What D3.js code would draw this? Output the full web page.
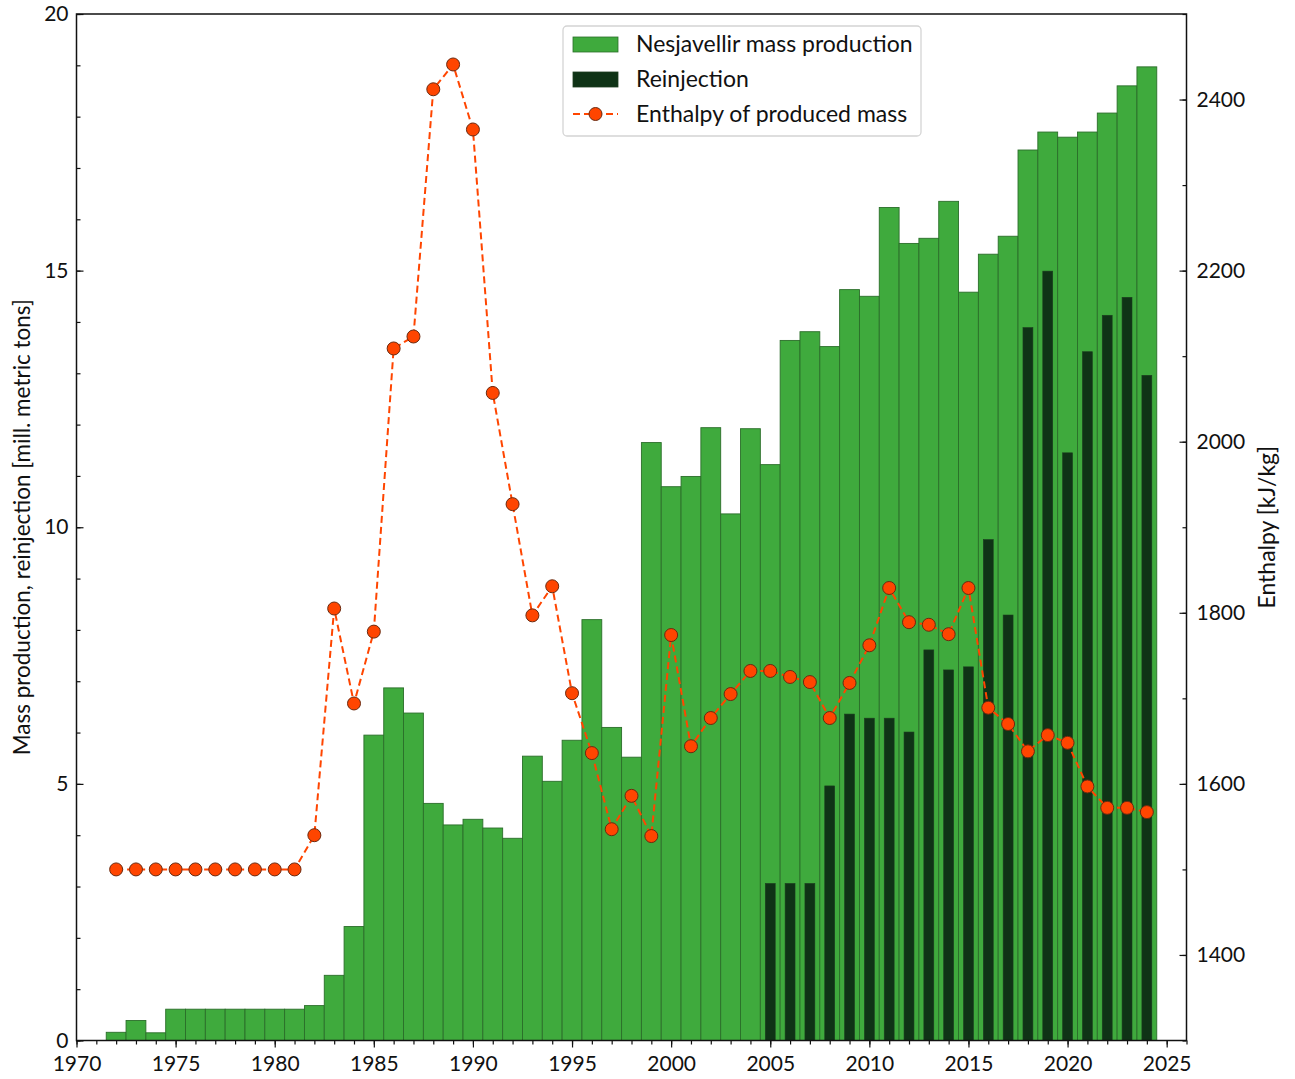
<html>
<head>
  <meta charset="utf-8" />
  <script src="https://d3js.org/d3.v7.min.js"></script>
  <style>
    body { margin: 0; background: #fff; }
    text { font-family: Lato, "DejaVu Sans", sans-serif; fill: #111; }
  </style>
</head>
<body>
  <div id="chart"></div>
  <script>
    // ---- data ----
    var years = d3.range(1972, 2025);
    var production = [
      0.16, 0.39, 0.15, 0.61, 0.61, 0.61, 0.61, 0.61, 0.61, 0.61,
      0.68, 1.27, 2.22, 5.95, 6.87, 6.38, 4.62, 4.2, 4.31, 4.14,
      3.94, 5.54, 5.05, 5.85, 8.2, 6.1, 5.52, 11.65, 10.79, 10.99,
      11.94, 10.26, 11.92, 11.22, 13.64, 13.81, 13.52, 14.63, 14.5, 16.23,
      15.53, 15.63, 16.35, 14.58, 15.32, 15.67, 17.35, 17.7, 17.6, 17.7,
      18.07, 18.6, 18.97
    ];
    var reinjYears = d3.range(2005, 2025);
    var reinjection = [
      3.06, 3.06, 3.06, 4.96, 6.36, 6.28, 6.28, 6.01, 7.61, 7.22,
      7.28, 9.76, 8.29, 13.89, 14.99, 11.45, 13.42, 14.13, 14.48, 12.96
    ];
    var enthalpy = [
      1500, 1500, 1500, 1500, 1500, 1500, 1500, 1500, 1500, 1500,
      1540, 1805, 1694, 1778, 2109, 2123, 2412, 2441, 2365, 2057,
      1927, 1797, 1831, 1706, 1636, 1547, 1586, 1539, 1774, 1644,
      1677, 1705, 1732, 1732, 1725, 1719, 1677, 1718, 1762, 1829,
      1789, 1786, 1775, 1829, 1689, 1670, 1638, 1657, 1648, 1597,
      1572, 1572, 1567
    ];
    var legendLabels = ["Nesjavellir mass production", "Reinjection", "Enthalpy of produced mass"];

    var green = "#3faa3d", greenEdge = "#2b6e2a", dark = "#0f3316", orange = "#ff4500";

    var W = 1295, H = 1079;
    var pLeft = 76.5, pRight = 1186.5, pTop = 14, pBottom = 1040.5;

    var svg = d3.select("#chart").append("svg")
      .attr("width", W).attr("height", H);

    var x = d3.scaleLinear().domain([1970, 2026]).range([pLeft, pRight]);
    var yL = d3.scaleLinear().domain([0, 20]).range([pBottom, pTop]);
    var yR = d3.scaleLinear().domain([1300, 2500]).range([pBottom, pTop]);

    // production bars (width 1 year)
    svg.append("g").selectAll("rect")
      .data(years.map((d, i) => ({ yr: d, v: production[i] })))
      .join("rect")
      .attr("x", d => x(d.yr - 0.5))
      .attr("width", d => x(d.yr + 0.5) - x(d.yr - 0.5))
      .attr("y", d => yL(d.v))
      .attr("height", d => yL(0) - yL(d.v))
      .attr("fill", green)
      .attr("stroke", greenEdge)
      .attr("stroke-width", 0.9);

    // reinjection bars (width 0.5 year)
    svg.append("g").selectAll("rect")
      .data(reinjYears.map((d, i) => ({ yr: d, v: reinjection[i] })))
      .join("rect")
      .attr("x", d => x(d.yr - 0.25))
      .attr("width", d => x(d.yr + 0.25) - x(d.yr - 0.25))
      .attr("y", d => yL(d.v))
      .attr("height", d => yL(0) - yL(d.v))
      .attr("fill", dark)
      .attr("stroke", "#1c3d1f")
      .attr("stroke-width", 0.6);

    // enthalpy line
    var pts = years.map((d, i) => ({ yr: d, v: enthalpy[i] }));
    svg.append("path")
      .datum(pts)
      .attr("fill", "none")
      .attr("stroke", orange)
      .attr("stroke-width", 2)
      .attr("stroke-dasharray", "7,4")
      .attr("d", d3.line().x(d => x(d.yr)).y(d => yR(d.v)));

    svg.append("g").selectAll("circle")
      .data(pts)
      .join("circle")
      .attr("cx", d => x(d.yr))
      .attr("cy", d => yR(d.v))
      .attr("r", 6.5)
      .attr("fill", orange)
      .attr("stroke", "#6a2a10")
      .attr("stroke-width", 1);

    // axes
    function style(g) {
      g.select(".domain").remove();
      g.selectAll("line").attr("stroke", "#111").attr("stroke-width", 1.2);
      g.selectAll("text").style("font-size", "21px").attr("fill", "#111");
    }

    // bottom
    svg.append("g").attr("transform", "translate(0," + pBottom + ")")
      .call(d3.axisBottom(x).tickValues(d3.range(1970, 2027)).tickSize(4).tickFormat(""))
      .call(style);
    svg.append("g").attr("transform", "translate(0," + pBottom + ")")
      .call(d3.axisBottom(x).tickValues(d3.range(1970, 2026, 5)).tickSize(7).tickPadding(9).tickFormat(d3.format("d")))
      .call(style);

    // left (ticks inward)
    svg.append("g").attr("transform", "translate(" + pLeft + ",0)")
      .call(d3.axisRight(yL).tickValues(d3.range(0, 21)).tickSize(4).tickFormat(""))
      .call(style);
    svg.append("g").attr("transform", "translate(" + pLeft + ",0)")
      .call(d3.axisLeft(yL).tickValues([0, 5, 10, 15, 20]).tickSize(0).tickPadding(8).tickFormat(d3.format("d")))
      .call(style);
    svg.append("g").attr("transform", "translate(" + pLeft + ",0)")
      .call(d3.axisRight(yL).tickValues([0, 5, 10, 15, 20]).tickSize(7).tickFormat(""))
      .call(style);

    // right (ticks inward)
    svg.append("g").attr("transform", "translate(" + pRight + ",0)")
      .call(d3.axisLeft(yR).tickValues(d3.range(1300, 2501, 100)).tickSize(4).tickFormat(""))
      .call(style);
    svg.append("g").attr("transform", "translate(" + pRight + ",0)")
      .call(d3.axisLeft(yR).tickValues([1400, 1600, 1800, 2000, 2200, 2400]).tickSize(7).tickFormat(""))
      .call(style);
    svg.append("g").attr("transform", "translate(" + pRight + ",0)")
      .call(d3.axisRight(yR).tickValues([1400, 1600, 1800, 2000, 2200, 2400]).tickSize(0).tickPadding(10).tickFormat(d3.format("d")))
      .call(style);

    // frame
    svg.append("rect")
      .attr("x", pLeft).attr("y", pTop)
      .attr("width", pRight - pLeft).attr("height", pBottom - pTop)
      .attr("fill", "none").attr("stroke", "#111").attr("stroke-width", 1.5);

    // axis titles
    svg.append("text")
      .attr("transform", "translate(30," + (pTop + pBottom) / 2 + ") rotate(-90)")
      .attr("text-anchor", "middle")
      .style("font-size", "22.5px")
      .text("Mass production, reinjection [mill. metric tons]");
    svg.append("text")
      .attr("transform", "translate(1275," + (pTop + pBottom) / 2 + ") rotate(-90)")
      .attr("text-anchor", "middle")
      .style("font-size", "23px")
      .text("Enthalpy [kJ/kg]");

    // legend
    var lg = svg.append("g").attr("transform", "translate(563,26)");
    lg.append("rect")
      .attr("width", 358).attr("height", 110).attr("rx", 4)
      .attr("fill", "#fff").attr("fill-opacity", 0.85)
      .attr("stroke", "#d4d4d4").attr("stroke-width", 1.3);
    legendLabels.forEach(function (lab, i) {
      var cy = 18 + i * 35;
      if (i < 2) {
        lg.append("rect")
          .attr("x", 10).attr("y", cy - 7).attr("width", 45).attr("height", 15)
          .attr("fill", i == 0 ? green : dark)
          .attr("stroke", i == 0 ? greenEdge : "#1c3d1f").attr("stroke-width", 0.8);
      } else {
        lg.append("line")
          .attr("x1", 10).attr("x2", 55).attr("y1", cy).attr("y2", cy)
          .attr("stroke", orange).attr("stroke-width", 2).attr("stroke-dasharray", "7,4");
        lg.append("circle")
          .attr("cx", 32.5).attr("cy", cy).attr("r", 6.5)
          .attr("fill", orange).attr("stroke", "#6a2a10").attr("stroke-width", 1);
      }
      lg.append("text")
        .attr("x", 73).attr("y", cy + 8)
        .style("font-size", "23px")
        .text(lab);
    });
  </script>
</body>
</html>
